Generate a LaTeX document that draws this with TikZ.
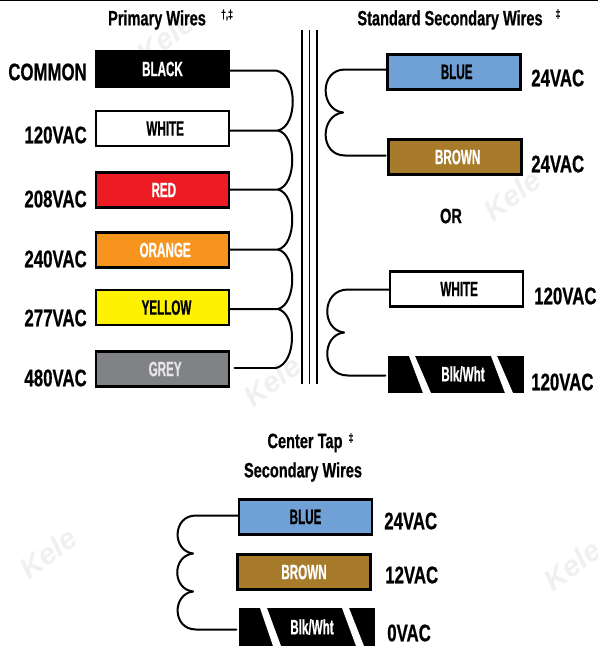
\documentclass[tikz,border=0pt]{standalone}
\usepackage{fontspec}
\setmainfont{Liberation Sans}
\newfontfamily\labfam[FakeStretch=0.7,FakeBold=0.6]{Liberation Sans}
\newfontfamily\boxfam[FakeStretch=0.56,FakeBold=0.6]{Liberation Sans}
\newcommand{\wlab}{\labfam\bfseries\fontsize{18}{20}\selectfont}
\newcommand{\wtitle}{\labfam\bfseries\fontsize{15.6}{18}\selectfont}
\newcommand{\wbox}{\boxfam\bfseries\fontsize{15.6}{18}\selectfont}
\newcommand{\wmark}{\bfseries\itshape\fontsize{22}{24}\selectfont}
\newcommand{\tshift}[2]{\hspace*{#1}#2}
\tikzset{
  wirebox/.style={draw=black,line width=1.9pt,outer sep=0pt,inner sep=0pt,minimum width=100pt,minimum height=26pt,font=\wbox},
  stripedbox/.style={fill=black,text=white,outer sep=0pt,inner sep=0pt,minimum width=102pt,minimum height=28pt,font=\wbox},
  vlabel/.style={font=\wlab,inner sep=0pt,text=black},
  vlabelr/.style={vlabel,anchor=east},
  vlabell/.style={vlabel,anchor=west},
  heading/.style={font=\wtitle,inner sep=0pt},
  dagmark/.style={font=\labfam\bfseries\fontsize{9}{10}\selectfont,inner sep=0pt},
  wire/.style={line width=1.5pt,draw=black,line cap=round},
  core/.style={line width=1.3pt,draw=black},
  stripe/.style={fill=white,draw=none},
  watermark/.style={font=\wmark,text=black!6,rotate=37,inner sep=0pt}
}
\definecolor{wblue}{HTML}{6FA0D6}
\definecolor{wbrown}{HTML}{A87B2B}
\definecolor{wred}{HTML}{ED1C24}
\definecolor{worange}{HTML}{F7941D}
\definecolor{wyellow}{HTML}{FFF200}
\definecolor{wgrey}{HTML}{808285}
\begin{document}
\begin{tikzpicture}[x=0.75pt,y=-0.75pt]
\useasboundingbox (0,0) rectangle (598,646);
\fill[white] (0,0) rectangle (598,646);
\draw[line width=0.8pt] (0,0.4) -- (598,0.4);
% watermarks
\node[watermark] (wm1) at (165,38) {Kele};
\node[watermark] (wm2) at (512,195) {Kele};
\node[watermark] (wm3) at (272,381) {Kele};
\node[watermark] (wm4) at (48,553) {Kele};
\node[watermark] (wm5) at (572,565) {Kele};
% headings
\node[heading] (h1) at (157,20) {Primary Wires};
\node[dagmark] (h1m) at (227,15) {†,‡};
\node[heading] (h2) at (450,20) {Standard Secondary Wires};
\node[dagmark] (h2m) at (558,14) {‡};
\node[heading] (h3) at (305,443) {Center Tap};
\node[dagmark] (h3m) at (351,438) {‡};
\node[heading] (h4) at (303,472) {Secondary Wires};
% core
\coordinate (c1t) at (302,30); \coordinate (c1b) at (302,384);
\coordinate (c2t) at (309.5,30); \coordinate (c2b) at (309.5,384);
\coordinate (c3t) at (317,30); \coordinate (c3b) at (317,384);
\draw[core] (c1t) -- (c1b);
\draw[core] (c2t) -- (c2b);
\draw[core] (c3t) -- (c3b);
% primary
\node[wirebox,fill=black,text=white] (black) at (162.5,69) {\raisebox{-1.5pt}{BLACK}};
\node[wirebox,fill=white,text=black] (white) at (162.5,128.5) {\tshift{4pt}{WHITE}};
\node[wirebox,fill=wred,text=white] (red) at (162.5,190) {\tshift{2pt}{RED}};
\node[wirebox,fill=worange,text=white] (orange) at (162.5,250) {\tshift{4pt}{ORANGE}};
\node[wirebox,fill=wyellow,text=black] (yellow) at (162.5,307.5) {\tshift{6pt}{YELLOW}};
\node[wirebox,fill=wgrey,text=white!90!black] (grey) at (162.5,369) {\tshift{4pt}{GREY}};
\coordinate (p1) at (276,70.5);
\coordinate (p2) at (278,130.5);
\coordinate (p3) at (278,189.5);
\coordinate (p4) at (278,249.5);
\coordinate (p5) at (278,309);
\coordinate (p6) at (276,368);
\draw[wire] (black.east |- p1) -- (p1) .. controls (298,75) and (298,126) .. (p2);
\draw[wire] (white.east |- p2) -- (p2) .. controls (297,135) and (297,185) .. (p3);
\draw[wire] (red.east |- p3) -- (p3) .. controls (297,194) and (297,245) .. (p4);
\draw[wire] (orange.east |- p4) -- (p4) .. controls (297,254) and (297,304) .. (p5);
\draw[wire] (yellow.east |- p5) -- (p5) .. controls (297,314) and (297,363) .. (p6);
\draw[wire,shorten <=4pt] (grey.east |- p6) -- (p6);
\node[vlabelr] (l1) at (87,72) {COMMON};
\node[vlabelr] (l2) at (87,135) {120VAC};
\node[vlabelr] (l3) at (87,199) {208VAC};
\node[vlabelr] (l4) at (87,259) {240VAC};
\node[vlabelr] (l5) at (87,318) {277VAC};
\node[vlabelr] (l6) at (87,378) {480VAC};
% standard secondary 24V
\node[wirebox,fill=wblue,text=black] (sblue) at (454,72) {\tshift{4pt}{BLUE}};
\node[wirebox,fill=wbrown,text=white] (sbrown) at (455,157) {\tshift{4pt}{BROWN}};
\coordinate (s1) at (345,69.5);
\coordinate (s2) at (343,112.5);
\coordinate (s3) at (345,155.5);
\draw[wire] (sblue.west |- s1) -- (s1) .. controls (319,69.5) and (320,110) .. (s2);
\draw[wire] (s2) .. controls (320,115) and (319,155.5) .. (s3) -- ([xshift=-2pt]sbrown.west |- s3);
\node[vlabell] (r1) at (531,78) {24VAC};
\node[vlabell] (r2) at (531,164) {24VAC};
\node[heading] (or) at (451,216) {OR};
% standard secondary 120V
\node[wirebox,fill=white,text=black] (swhite) at (456.5,289) {\tshift{4pt}{WHITE}};
\node[stripedbox] (sbw) at (456,374.5) {};
\fill[stripe] (409,356) -- (415,356) -- (431,393) -- (423,393) -- cycle;
\fill[stripe] (491,356) -- (497,356) -- (513,393) -- (505,393) -- cycle;
\node[font=\wbox,text=white,inner sep=0pt] (sbwt) at (463,374) {Blk/Wht};
\coordinate (s4) at (348,289.5);
\coordinate (s5) at (344,332.5);
\coordinate (s6) at (348,375.5);
\draw[wire] (swhite.west |- s4) -- (s4) .. controls (321,289.5) and (321,330) .. (s5);
\draw[wire] (s5) .. controls (321,335) and (321,375.5) .. (s6) -- ([xshift=-2pt]sbw.west |- s6);
\node[vlabell] (r3) at (534,296) {120VAC};
\node[vlabell] (r4) at (531,382) {120VAC};
% center tap
\node[wirebox,fill=wblue,text=black] (cblue) at (305.5,517) {BLUE};
\node[wirebox,fill=wbrown,text=white] (cbrown) at (304,572) {BROWN};
\node[stripedbox] (cbw) at (307,627) {};
\fill[stripe] (260,608) -- (267,608) -- (281,646) -- (273,646) -- cycle;
\fill[stripe] (342,608) -- (349,608) -- (364,646) -- (356,646) -- cycle;
\node[font=\wbox,text=white,inner sep=0pt] (cbwt) at (312,627) {Blk/Wht};
\coordinate (t1) at (196,515.5);
\coordinate (t2) at (193,553.5);
\coordinate (t3) at (193,591.5);
\coordinate (t4) at (196,629.5);
\draw[wire] (cblue.west |- t1) -- (t1) .. controls (172,515.5) and (172,551) .. (t2);
\draw[wire] (t2) .. controls (172,556) and (172,589) .. (t3);
\draw[wire] (t3) .. controls (172,594) and (172,629.5) .. (t4) -- ([xshift=-2pt]cbw.west |- t4);
\node[vlabell] (b1) at (384,521) {24VAC};
\node[vlabell] (b2) at (385,575) {12VAC};
\node[vlabell] (b3) at (387,633) {0VAC};
\end{tikzpicture}
\end{document}
